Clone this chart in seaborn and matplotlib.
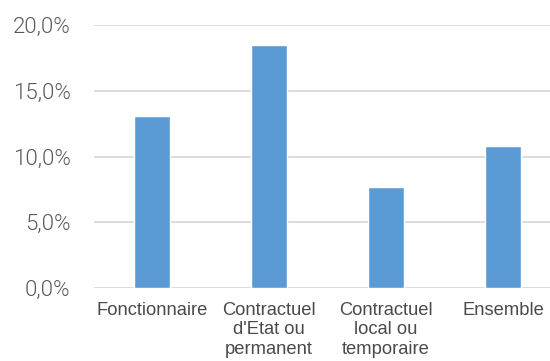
import matplotlib
matplotlib.use('Agg')
import matplotlib.pyplot as plt
import seaborn as sns
import pandas as pd
from matplotlib.ticker import FuncFormatter

# Data
categories = ["Fonctionnaire", "Contractuel\nd'Etat ou\npermanent",
              "Contractuel\nlocal ou\ntemporaire", "Ensemble"]
values = [13.1, 18.5, 7.7, 10.8]
yticks = [0, 5, 10, 15, 20]

df = pd.DataFrame({'categorie': categories, 'taux': values})

sns.set_style('white')
plt.rcParams['font.family'] = ['Liberation Sans', 'DejaVu Sans']

fig = plt.figure(figsize=(5.5, 3.61), dpi=100)
ax = fig.add_axes([93.5 / 550, 73 / 361, 468 / 550, 263 / 361])

sns.barplot(data=df, x='categorie', y='taux', color='#5B9BD5', width=0.314,
            saturation=1, ax=ax, zorder=3)

ax.set_ylim(0, 20)
ax.set_yticks(yticks)
ax.yaxis.set_major_formatter(FuncFormatter(lambda v, p: f"{v:.1f}".replace('.', ',') + '%'))
ax.grid(axis='y', color='#d9d9d9', linewidth=1.3, zorder=0)
ax.grid(axis='x', visible=False)
for s in ax.spines.values():
    s.set_visible(False)

ax.tick_params(axis='y', length=0, pad=16.5, labelsize=16, labelcolor='#595959')
ax.tick_params(axis='x', length=0, pad=10, labelsize=13.2, labelcolor='#4a4a4a')
for lab in ax.get_yticklabels():
    lab.set_family(['Roboto', 'DejaVu Sans'])
    lab.set_fontweight(300)
for lab in ax.get_xticklabels():
    lab.set_linespacing(1.2)

ax.set_xlabel('')
ax.set_ylabel('')

fig.savefig('out.png', dpi=100)
